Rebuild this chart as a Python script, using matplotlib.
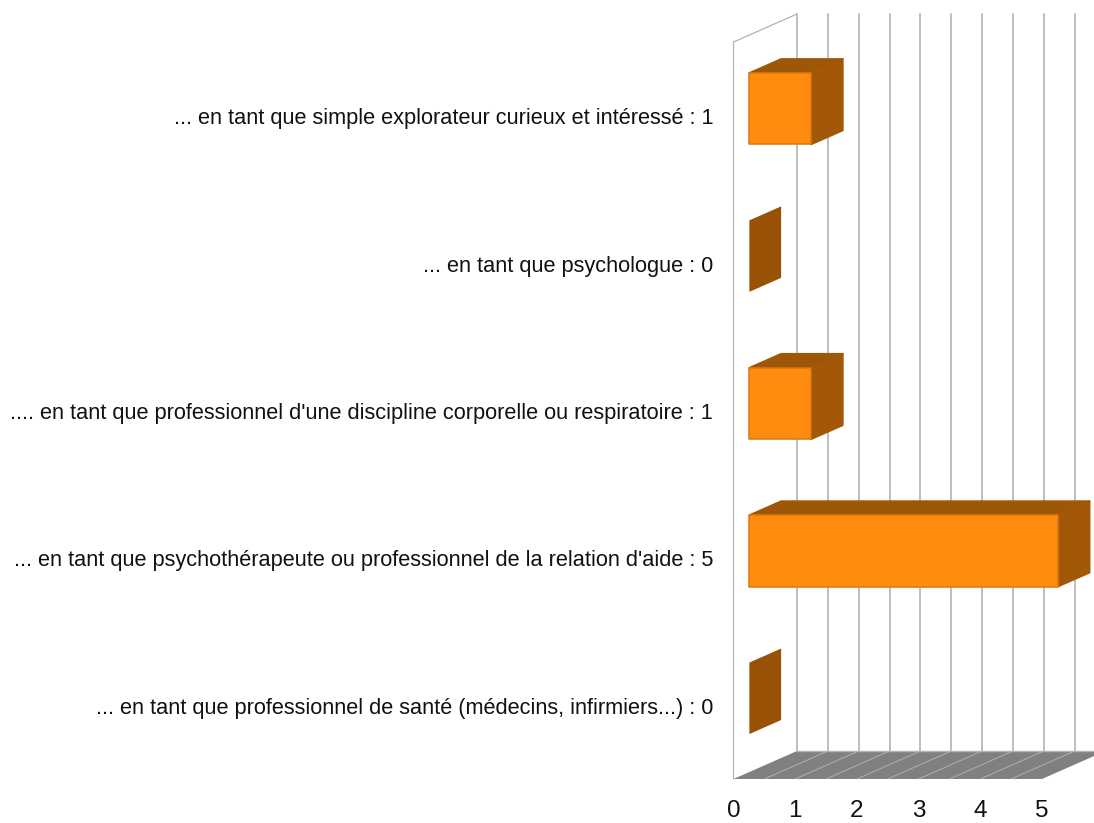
import matplotlib
matplotlib.use("Agg")
import matplotlib.pyplot as plt
from matplotlib.patches import Polygon

plt.rcParams['font.family'] = ['Liberation Sans', 'DejaVu Sans']

# top to bottom, as on the chart
labels = [
    "... en tant que simple explorateur curieux et intéressé : 1",
    "... en tant que psychologue : 0",
    ".... en tant que professionnel d'une discipline corporelle ou respiratoire : 1",
    "... en tant que psychothérapeute ou professionnel de la relation d'aide : 5",
    "... en tant que professionnel de santé (médecins, infirmiers...) : 0",
]
values = [1, 0, 1, 5, 0]
xticks = [0, 1, 2, 3, 4, 5]

W, H = 1094, 823
X0, XUNIT = 733.5, 61.7     # pixel of value 0, pixels per unit
Y0, YUNIT = 42.0, 147.4     # pixel of the wall top, pixels per category
DX = 63.5 / XUNIT           # full depth of the chart in data units
DY = -28.0 / YUNIT

GRID = "#b3b3b3"
FLOOR = "#808080"
FRONT = "#ff8c0f"
EDGE = "#d9780d"
TOP = "#9e5607"
SIDE = "#a35808"
ZERO = "#985105"


def pt(v, c, d=0.0):
    # value, category position, depth 0..1 -> oblique projected data point
    return (v + DX * d, c + DY * d)


fig = plt.figure(figsize=(W / 100, H / 100), dpi=100)
ax = fig.add_axes([0, 0, 1, 1])
ax.set_xlim((0 - X0) / XUNIT, (W - X0) / XUNIT)
ax.set_ylim((H - Y0) / YUNIT, (0 - Y0) / YUNIT)
ax.axis("off")

n = len(labels)
vmax = xticks[-1]
steps = [i * 0.5 for i in range(2 * vmax + 1)]

# floor
ax.add_patch(Polygon([pt(0, n), pt(vmax, n), pt(vmax, n, 1), pt(0, n, 1)],
                     closed=True, fc=FLOOR, ec="none", zorder=1))
for v in steps[1:-1]:
    a, b = pt(v, n), pt(v, n, 1)
    ax.plot([a[0], b[0]], [a[1], b[1]], color="#b8b8b8", lw=0.6, zorder=2)

# back wall grid
for v in steps:
    a, b = pt(v, 0, 1), pt(v, n, 1)
    ax.plot([a[0], b[0]], [a[1], b[1]], color=GRID, lw=1.2, zorder=2)
a, b = pt(0, n, 1), pt(vmax, n, 1)
ax.plot([a[0], b[0]], [a[1], b[1]], color=GRID, lw=1.0, zorder=2)

# left wall outline
wall = [pt(0, n), pt(0, 0), pt(0, 0, 1)]
ax.plot([p[0] for p in wall], [p[1] for p in wall], color=GRID, lw=0.9, zorder=2)

# bars
BAR_H = 0.485
D1, D2 = 0.25, 0.75
for i, val in enumerate(values):
    top = i + 0.5 - BAR_H / 2
    bot = i + 0.5 + BAR_H / 2
    if val == 0:
        ax.add_patch(Polygon([pt(0, top, D1), pt(0, bot, D1), pt(0, bot, D2), pt(0, top, D2)],
                             closed=True, fc=ZERO, ec="none", zorder=3))
        continue
    ax.add_patch(Polygon([pt(0, top, D1), pt(val, top, D1), pt(val, top, D2), pt(0, top, D2)],
                         closed=True, fc=TOP, ec=TOP, lw=1.2, joinstyle="round", zorder=3))
    ax.add_patch(Polygon([pt(val, top, D1), pt(val, bot, D1), pt(val, bot, D2), pt(val, top, D2)],
                         closed=True, fc=SIDE, ec=SIDE, lw=1.2, joinstyle="round", zorder=3))
    ax.add_patch(Polygon([pt(0, top, D1), pt(val, top, D1), pt(val, bot, D1), pt(0, bot, D1)],
                         closed=True, fc=FRONT, ec=EDGE, lw=1.1, joinstyle="round", zorder=4))

# category labels
for i, lab in enumerate(labels):
    ax.text(pt(0, 0)[0] - 20.5 / XUNIT, i + 0.5 + 3.0 / YUNIT, lab,
            ha="right", va="center", fontsize=15.7, color="#111111", zorder=5)

# value axis labels, kept just clear of the bottom edge
for t in xticks:
    ax.text(t, n + 32 / YUNIT, str(t), ha="center", va="center", fontsize=17.5,
            color="#111111", zorder=5)

fig.savefig("out.png", dpi=100, facecolor="white")
